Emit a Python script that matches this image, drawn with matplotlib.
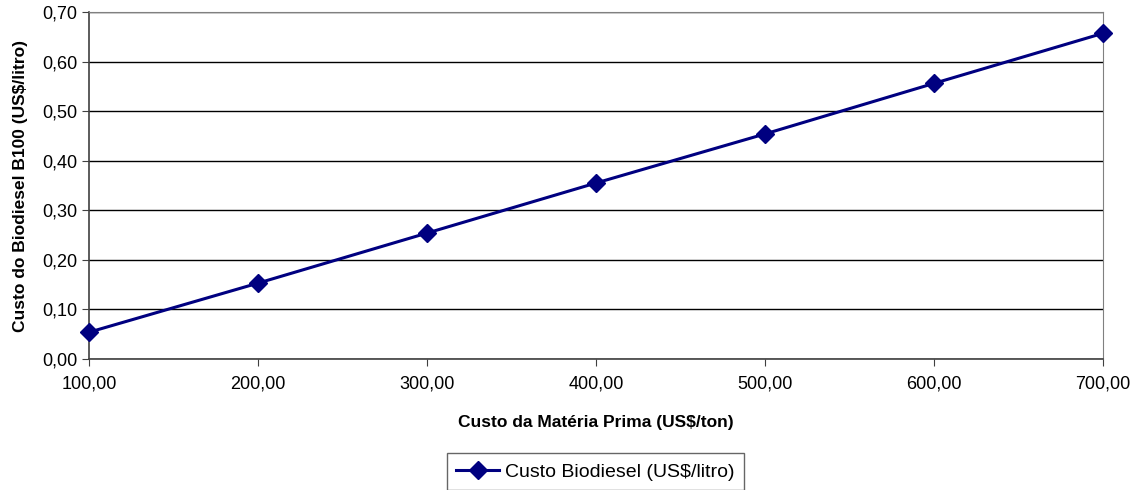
import matplotlib
matplotlib.use("Agg")
import matplotlib.pyplot as plt
from matplotlib.ticker import FuncFormatter

plt.rcParams['font.family'] = ['Liberation Sans', 'DejaVu Sans']

# data
materia_prima = [100, 200, 300, 400, 500, 600, 700]
custo_biodiesel = [0.054, 0.153, 0.254, 0.355, 0.454, 0.556, 0.657]

navy = '#000080'


def virgula(v, pos):
    return f"{v:.2f}".replace('.', ',')


fig = plt.figure(figsize=(11.4, 4.9), dpi=100)
ax = fig.add_axes([0.078, 0.2673, 0.8895, 0.7082])

ax.plot(materia_prima, custo_biodiesel, color=navy, linewidth=2.2,
        marker='D', markersize=9, label='Custo Biodiesel (US$/litro)',
        clip_on=False, zorder=3)

ax.set_xlim(100, 700)
ax.set_ylim(0, 0.70)
ax.set_xticks(materia_prima)
ax.set_yticks([i / 10 for i in range(8)])
ax.xaxis.set_major_formatter(FuncFormatter(virgula))
ax.yaxis.set_major_formatter(FuncFormatter(virgula))
ax.grid(axis='y', color='black', linewidth=1)
ax.set_axisbelow(True)

for s in ['top', 'right']:
    ax.spines[s].set_color('#808080')
for s in ['left', 'bottom']:
    ax.spines[s].set_color('#404040')
    ax.spines[s].set_linewidth(1.2)
ax.tick_params(axis='both', labelsize=13, color='#404040', length=5)
ax.tick_params(axis='x', pad=7)

ax.set_xlabel('Custo da Matéria Prima (US$/ton)', fontsize=12.5,
              fontweight='bold', labelpad=16)
ax.set_ylabel('Custo do Biodiesel B100 (US$/litro)', fontsize=12.5,
              fontweight='bold', labelpad=10)

leg = ax.legend(loc='upper center', bbox_to_anchor=(0.4995, -0.272), fontsize=14,
                frameon=True, fancybox=False, edgecolor='#404040',
                handlelength=2.2, handletextpad=0.3, borderpad=0.5,
                borderaxespad=0)
leg.get_frame().set_linewidth(1)

fig.savefig('out.png', dpi=100)
